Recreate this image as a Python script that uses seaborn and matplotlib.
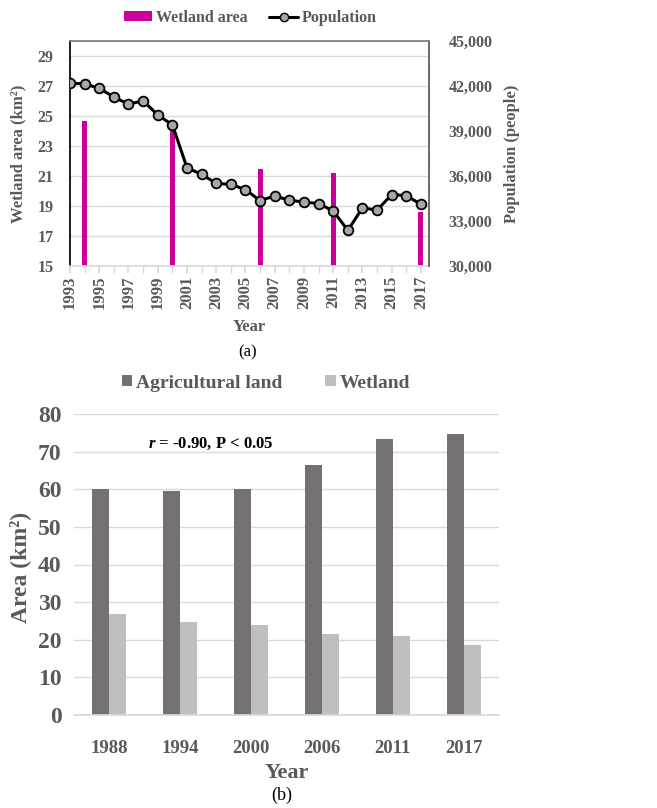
import numpy as np
import pandas as pd
import matplotlib
matplotlib.use("Agg")
import matplotlib.pyplot as plt
from matplotlib.lines import Line2D
from matplotlib.patches import Patch
import seaborn as sns

# ---- data ----
pop_years = list(range(1993, 2018))
population = [42180, 42150, 41840, 41270, 40780, 41020, 40070, 39420,
              36550, 36110, 35510, 35440, 35090, 34360, 34670, 34380,
              34270, 34160, 33670, 32380, 33870, 33730, 34760, 34690, 34110]

wet_years = [1994, 2000, 2006, 2011, 2017]
wetland_area = [24.7, 24.0, 21.5, 21.2, 18.6]

cmp_years = ["1988", "1994", "2000", "2006", "2011", "2017"]
agricultural = [60.0, 59.5, 60.0, 66.4, 73.4, 74.7]
wetland = [26.8, 24.7, 24.0, 21.5, 21.1, 18.5]

# ---- style ----
sns.set_theme(style="white")
plt.rcParams["font.family"] = ["Liberation Serif", "DejaVu Serif"]
plt.rcParams["font.weight"] = "bold"
plt.rcParams["mathtext.fontset"] = "custom"
plt.rcParams["mathtext.it"] = "Liberation Serif:italic:bold"
plt.rcParams["mathtext.rm"] = "Liberation Serif:bold"
TXT = "#595959"
GRID = "#D9D9D9"
MAGENTA = "#CC0099"
DARK = "#767171"
LIGHT = "#BFBFBF"

fig = plt.figure(figsize=(6.57, 8.08), dpi=100)

# ================= panel (a) =================
ax1 = fig.add_axes([70 / 657, 1 - 266 / 808, 359 / 657, 225 / 808])
ax2 = ax1.twinx()

wet_df = pd.DataFrame({"Year": wet_years, "Wetland area": wetland_area})
sns.barplot(data=wet_df, x="Year", y="Wetland area", native_scale=True,
            color=MAGENTA, width=0.34 / 5, linewidth=0, saturation=1,
            ax=ax1)

pop_df = pd.DataFrame({"Year": pop_years, "Population": population})
sns.lineplot(data=pop_df, x="Year", y="Population", color="black",
             linewidth=2.2, marker="o", markersize=7,
             markerfacecolor="#A6A6A6", markeredgecolor="black",
             markeredgewidth=1.3, ax=ax2)

ax1.set_xlim(1993, 2017.55)
ax1.set_ylim(15, 30)
ax2.set_ylim(30000, 45000)
ax1.set_yticks(np.arange(15, 30, 2))
ax2.set_yticks(np.arange(30000, 45001, 3000))
ax2.set_yticklabels([f"{v:,}" for v in range(30000, 45001, 3000)])
ax1.set_xticks(range(1993, 2018, 2))
ax1.set_xticks(range(1993, 2018), minor=True)
ax1.set_xticklabels([str(y) for y in range(1993, 2018, 2)], rotation=90)

ax1.grid(axis="y", color=GRID, linewidth=1)
ax1.set_axisbelow(True)
ax2.grid(False)

for sp in ["top", "right"]:
    ax1.spines[sp].set_visible(False)
ax1.spines["left"].set_color("black")
ax1.spines["bottom"].set_color(GRID)
ax2.spines["top"].set_color("#7F7F7F")
ax2.spines["right"].set_color("#595959")
ax2.spines["left"].set_visible(False)
ax2.spines["bottom"].set_visible(False)

ax1.tick_params(axis="x", which="both", bottom=True, length=5, color=GRID,
                labelsize=12, labelcolor=TXT, pad=2)
ax1.tick_params(axis="y", left=False, labelsize=11.5, labelcolor=TXT, pad=6)
ax2.tick_params(axis="y", right=False, labelsize=11.5, labelcolor=TXT, pad=8)
for lab in ax1.get_xticklabels() + ax1.get_yticklabels() + ax2.get_yticklabels():
    lab.set_fontweight("bold")

ax1.set_xlabel("Year", fontsize=12, color=TXT, fontweight="bold", labelpad=7)
ax1.set_ylabel("Wetland area (km²)", fontsize=12, color=TXT,
               fontweight="bold", labelpad=8)
ax2.set_ylabel("Population (people)", fontsize=12, color=TXT,
               fontweight="bold", labelpad=8)

leg_handles = [
    Patch(facecolor=MAGENTA, edgecolor="none", label="Wetland area"),
    Line2D([0], [0], color="black", linewidth=2.2, marker="o", markersize=6,
           markerfacecolor="#A6A6A6", markeredgecolor="black",
           label="Population"),
]
fig.legend(handles=leg_handles, loc="center", ncol=2,
           bbox_to_anchor=(250 / 657, 1 - 18 / 808), frameon=False,
           prop={"size": 11.5, "weight": "bold"}, labelcolor=TXT,
           handlelength=1.8, handleheight=0.6, handletextpad=0.2,
           columnspacing=1.4)

fig.text(248 / 657, 1 - 352 / 808, "(a)", ha="center", va="center",
         fontsize=12, fontweight="normal", color="black")

# ================= panel (b) =================
ax3 = fig.add_axes([74 / 657, 1 - 715 / 808, 425 / 657, 301 / 808])

cmp_df = pd.DataFrame({
    "Year": cmp_years * 2,
    "Area": agricultural + wetland,
    "Type": ["Agricultural land"] * len(cmp_years) + ["Wetland"] * len(cmp_years),
})
sns.barplot(data=cmp_df, x="Year", y="Area", hue="Type",
            palette=[DARK, LIGHT], width=0.48, linewidth=0, saturation=1,
            ax=ax3, legend=False)

ax3.set_ylim(0, 80)
ax3.set_xlim(-0.5, len(cmp_years) - 0.5)
ax3.set_yticks(range(0, 81, 10))
ax3.grid(axis="y", color=GRID, linewidth=1)
ax3.set_axisbelow(True)
for sp in ["top", "right", "left"]:
    ax3.spines[sp].set_visible(False)
ax3.spines["bottom"].set_color(GRID)
ax3.tick_params(axis="x", bottom=False, labelsize=13.5, labelcolor=TXT, pad=12)
ax3.tick_params(axis="y", left=False, labelsize=17, labelcolor=TXT, pad=3)
for lab in ax3.get_xticklabels() + ax3.get_yticklabels():
    lab.set_fontweight("bold")
ax3.set_xlabel("Year", fontsize=16, color=TXT, fontweight="bold", labelpad=4)
ax3.set_ylabel("Area (km²)", fontsize=17, color=TXT, fontweight="bold")
ax3.yaxis.set_label_coords(-0.102, 0.49)

ax3.text(0.175, 0.9, r"$\mathit{r}$ = -0.90, P < 0.05", transform=ax3.transAxes,
         fontsize=12, fontweight="bold", color="black", ha="left", va="center")

leg_b = [
    Patch(facecolor=DARK, edgecolor="none", label="Agricultural land"),
    Patch(facecolor=LIGHT, edgecolor="none", label="Wetland"),
]
fig.legend(handles=leg_b, loc="center", ncol=2,
           bbox_to_anchor=(266 / 657, 1 - 383 / 808), frameon=False,
           prop={"size": 14, "weight": "bold"}, labelcolor=TXT,
           handlelength=0.55, handleheight=0.55, handletextpad=0.2,
           columnspacing=2.2)

fig.text(282 / 657, 1 - 795 / 808, "(b)", ha="center", va="center",
         fontsize=13, fontweight="normal", color="black")

fig.savefig("out.png", dpi=100, facecolor="white")
